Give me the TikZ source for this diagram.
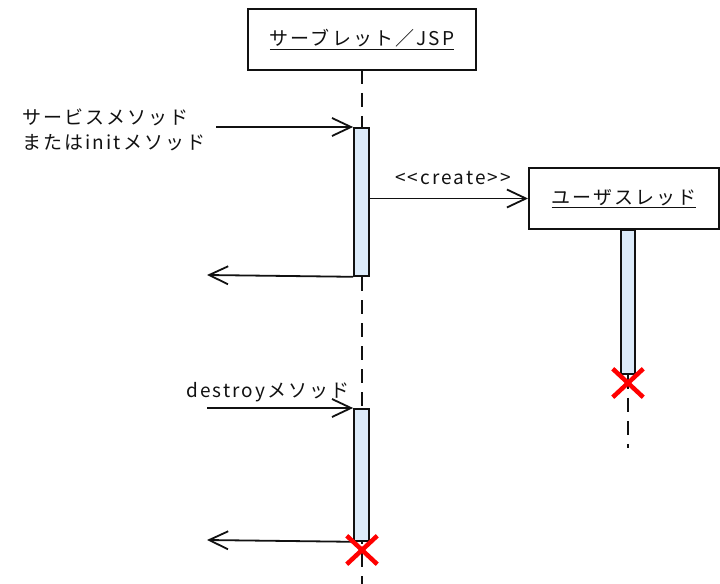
\documentclass[tikz,border=0pt]{standalone}
\usepackage{fontspec}
\newfontfamily\jpfont[LetterSpace=11]{Noto Sans CJK JP}
\usepackage{xcolor}
\usepackage{tikz}
\usetikzlibrary{arrows.meta,positioning,calc,shapes.misc}
\definecolor{seqInk}{HTML}{111111}
\definecolor{seqActFill}{HTML}{DCEBFA}
\definecolor{seqKill}{HTML}{FF0000}
\tikzset{
  % Shared sequence-figure contract: lifelines are dashed, activations are
  % pale blue bars, calls carry open barbs.
  seq/base/.style={
    font=\jpfont\fontsize{19bp}{25bp}\selectfont,
    text=seqInk,
    line cap=butt,
    line join=miter
  },
  seq/object/.style={
    draw=seqInk,
    fill=white,
    line width=2bp,
    minimum height=61bp,
    inner sep=0pt
  },
  seq/lifeline/.style={
    draw=seqInk,
    line width=2bp,
    dash pattern=on 14bp off 9bp
  },
  seq/activation/.style={
    draw=seqInk,
    fill=seqActFill,
    line width=1.8bp,
    minimum width=15bp,
    inner sep=0pt,
    anchor=north
  },
  seq/message/.style={
    -{Straight Barb[length=19bp,width=18bp,line width=1.8bp]},
    draw=seqInk,
    line width=1.8bp
  },
  seq/destroy/.style={
    cross out,
    draw=seqKill,
    line width=4.5bp,
    minimum width=26bp,
    minimum height=24bp,
    inner sep=0pt
  }
}
\begin{document}
\begin{tikzpicture}[
  seq/base,x=1bp,y=-1bp,
  label/.style={inner sep=0pt,align=left},
  obj/.style={seq/object},
  bar/.style={seq/activation},
  msg/.style={seq/message}
]
  \path[use as bounding box] (0,0) rectangle (720,584);
  % Objects
  \node[obj,minimum width=228bp] (servlet) at (362,39.5)
    {\underline{サーブレット／JSP}};
  \node[obj,minimum width=190bp] (thread) at (624,198.5)
    {\underline{ユーザスレッド}};
  % Lifelines first, so that the bars cover them
  \coordinate (servletBottom) at (362,584);
  \coordinate (servletTop) at (362,70);
  \coordinate (threadTail) at (628,448);
  \draw[seq/lifeline] (servletTop) -- (servletBottom);
  \node[bar,minimum height=148bp] (callBar) at (361.5,127) {};
  \node[bar,minimum height=132bp] (destroyBar) at (361.5,408) {};
  \node[bar,minimum width=14bp,minimum height=144bp] (threadBar) at (628,229) {};
  \draw[seq/lifeline] (threadBar.south) -- (threadTail);
  % Messages
  \coordinate (callIn) at (216,127);
  \coordinate (callOut) at (207,275);
  \coordinate (destroyIn) at (207,408);
  \coordinate (destroyOut) at (207,540);
  \draw[msg] (callIn) -- (callBar.north west);
  \draw[msg] (callBar.south west) -- (callOut);
  \draw[msg] (callBar.east |- thread.west) -- (thread.west);
  \draw[msg] (destroyIn) -- (destroyBar.north west);
  \draw[msg] (destroyBar.south west) -- (destroyOut);
  \node[label,anchor=west] (callLabel) at (22,129.5)
    {サービスメソッド\\またはinitメソッド};
  \node[label] (createLabel) at (453,178) {<<create>>};
  \node[label,anchor=west] (destroyLabel) at (186,392) {destroyメソッド};
  % Terminations
  \node[seq/destroy] (threadEnd) at (628,383) {};
  \node[seq/destroy] (servletEnd) at (362,550) {};
\end{tikzpicture}
\end{document}
